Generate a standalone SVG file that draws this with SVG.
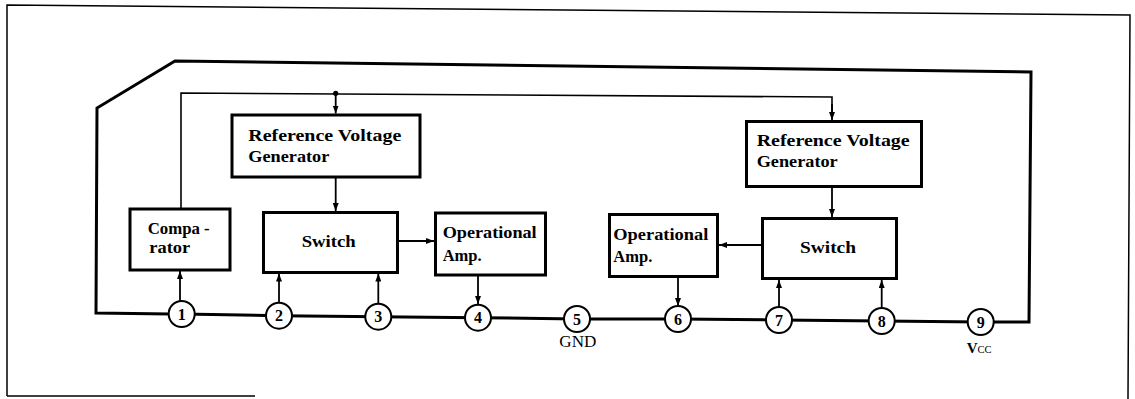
<svg xmlns="http://www.w3.org/2000/svg" width="1135" height="399" viewBox="0 0 1135 399">
<style>
.box{fill:#fff;stroke:#000;stroke-width:3}
.lbl{font-family:"Liberation Serif","Times New Roman",serif;font-weight:bold;font-size:17px;fill:#000}
.pin{fill:#fff;stroke:#000;stroke-width:2}
.pnum{font-family:"Liberation Serif","Times New Roman",serif;font-weight:bold;font-size:16px;fill:#000;text-anchor:middle}
.thick{fill:none;stroke:#000;stroke-width:3;stroke-linejoin:miter}
.thin{fill:none;stroke:#000;stroke-width:1.6}
.arr{fill:none;stroke:#000;stroke-width:1.8;marker-end:url(#ah)}
.frame{fill:none;stroke:#000;stroke-width:1.5}
.plain{font-family:"Liberation Serif","Times New Roman",serif;fill:#000}
</style>
<defs>
<marker id="ah" markerUnits="userSpaceOnUse" markerWidth="8" markerHeight="6" refX="8" refY="3" orient="auto">
<path d="M0,0 L8,3 L0,6 z" fill="#000"/>
</marker>
</defs>
<rect width="1135" height="399" fill="#fff"/>
<g id="frame">
<path class="frame" d="M7,396 L7,5 L1130,15 L1128,399"/>
<path class="frame" d="M7,396 L255,396"/>
</g>
<g id="connectors">
<path class="thick" d="M170,314 L96,313 L97,108 L175,61 L1031,72 L1029,322 L994,322"/>
<polyline class="thick" points="181.7,314 279,315.7 378.3,316.7 478,317.7 577,319 678,319 779,320 881.7,321 980.7,322"/>
<path class="thin" d="M181,208 L181,93 L832,97 L832,112"/>
<path class="arr" d="M832,104 L832,120"/>
<circle cx="335.7" cy="93.3" r="2.6" fill="#000"/>
<path class="arr" d="M335.7,93.3 L335.7,113.5"/>
<path class="arr" d="M335.7,178 L335.7,211"/>
<path class="arr" d="M832,187 L832,217"/>
<path class="arr" d="M398,241 L434,241"/>
<path class="arr" d="M762,245 L719,245"/>
<path class="arr" d="M478,276 L478,304"/>
<path class="arr" d="M678,277 L678,306"/>
<path class="arr" d="M180,301 L180,271"/>
<path class="arr" d="M279,302.7 L279,273.5"/>
<path class="arr" d="M378.3,303.7 L378.3,273.5"/>
<path class="arr" d="M779,307 L779,280"/>
<path class="arr" d="M881.7,308 L881.7,280"/>
</g>
<g id="comparator">
<rect class="box" x="130" y="209" width="100" height="61"/>
<text class="lbl" x="147.7" y="234" textLength="62" lengthAdjust="spacingAndGlyphs">Compa -</text>
<text class="lbl" x="149.3" y="253.3" textLength="41" lengthAdjust="spacingAndGlyphs">rator</text>
</g>
<g id="rvg-left">
<rect class="box" x="232" y="115" width="188" height="62"/>
<text class="lbl" x="248.3" y="141" textLength="153" lengthAdjust="spacingAndGlyphs">Reference  Voltage</text>
<text class="lbl" x="248.3" y="162.3" textLength="81" lengthAdjust="spacingAndGlyphs">Generator</text>
</g>
<g id="switch-left">
<rect class="box" x="263.5" y="212.5" width="134" height="60"/>
<text class="lbl" x="301.7" y="246.7" textLength="54" lengthAdjust="spacingAndGlyphs">Switch</text>
</g>
<g id="opamp-left">
<rect class="box" x="435.5" y="213" width="110" height="62"/>
<text class="lbl" x="442.7" y="238.3" textLength="94" lengthAdjust="spacingAndGlyphs">Operational</text>
<text class="lbl" x="442.7" y="260.7" textLength="39" lengthAdjust="spacingAndGlyphs">Amp.</text>
</g>
<g id="rvg-right">
<rect class="box" x="746.5" y="121.5" width="175" height="65"/>
<text class="lbl" x="756.7" y="146" textLength="153" lengthAdjust="spacingAndGlyphs">Reference  Voltage</text>
<text class="lbl" x="756.7" y="167" textLength="81" lengthAdjust="spacingAndGlyphs">Generator</text>
</g>
<g id="switch-right">
<rect class="box" x="762.5" y="218.5" width="134" height="60"/>
<text class="lbl" x="800" y="252.7" textLength="56" lengthAdjust="spacingAndGlyphs">Switch</text>
</g>
<g id="opamp-right">
<rect class="box" x="609.5" y="214.5" width="108" height="62"/>
<text class="lbl" x="613.3" y="240" textLength="95" lengthAdjust="spacingAndGlyphs">Operational</text>
<text class="lbl" x="613.3" y="261.7" textLength="39" lengthAdjust="spacingAndGlyphs">Amp.</text>
</g>
<g id="pin1"><circle class="pin" cx="181.7" cy="314" r="13"/><text class="pnum" x="181.7" y="319.5">1</text></g>
<g id="pin2"><circle class="pin" cx="279" cy="315.7" r="13"/><text class="pnum" x="279" y="321.2">2</text></g>
<g id="pin3"><circle class="pin" cx="378.3" cy="316.7" r="13"/><text class="pnum" x="378.3" y="322.2">3</text></g>
<g id="pin4"><circle class="pin" cx="478" cy="317.7" r="13"/><text class="pnum" x="478" y="323.2">4</text></g>
<g id="pin5"><circle class="pin" cx="577" cy="319" r="13"/><text class="pnum" x="577" y="324.5">5</text>
<text class="plain" x="559.3" y="347.3" font-size="16" textLength="37" lengthAdjust="spacingAndGlyphs">GND</text></g>
<g id="pin6"><circle class="pin" cx="678" cy="319" r="13"/><text class="pnum" x="678" y="324.5">6</text></g>
<g id="pin7"><circle class="pin" cx="779" cy="320" r="13"/><text class="pnum" x="779" y="325.5">7</text></g>
<g id="pin8"><circle class="pin" cx="881.7" cy="321" r="13"/><text class="pnum" x="881.7" y="326.5">8</text></g>
<g id="pin9"><circle class="pin" cx="980.7" cy="322" r="13"/><text class="pnum" x="980.7" y="327.5">9</text>
<text class="plain" x="966.7" y="353.3" font-size="15" font-weight="bold">V<tspan font-size="10.5" font-weight="normal">CC</tspan></text></g>
</svg>
